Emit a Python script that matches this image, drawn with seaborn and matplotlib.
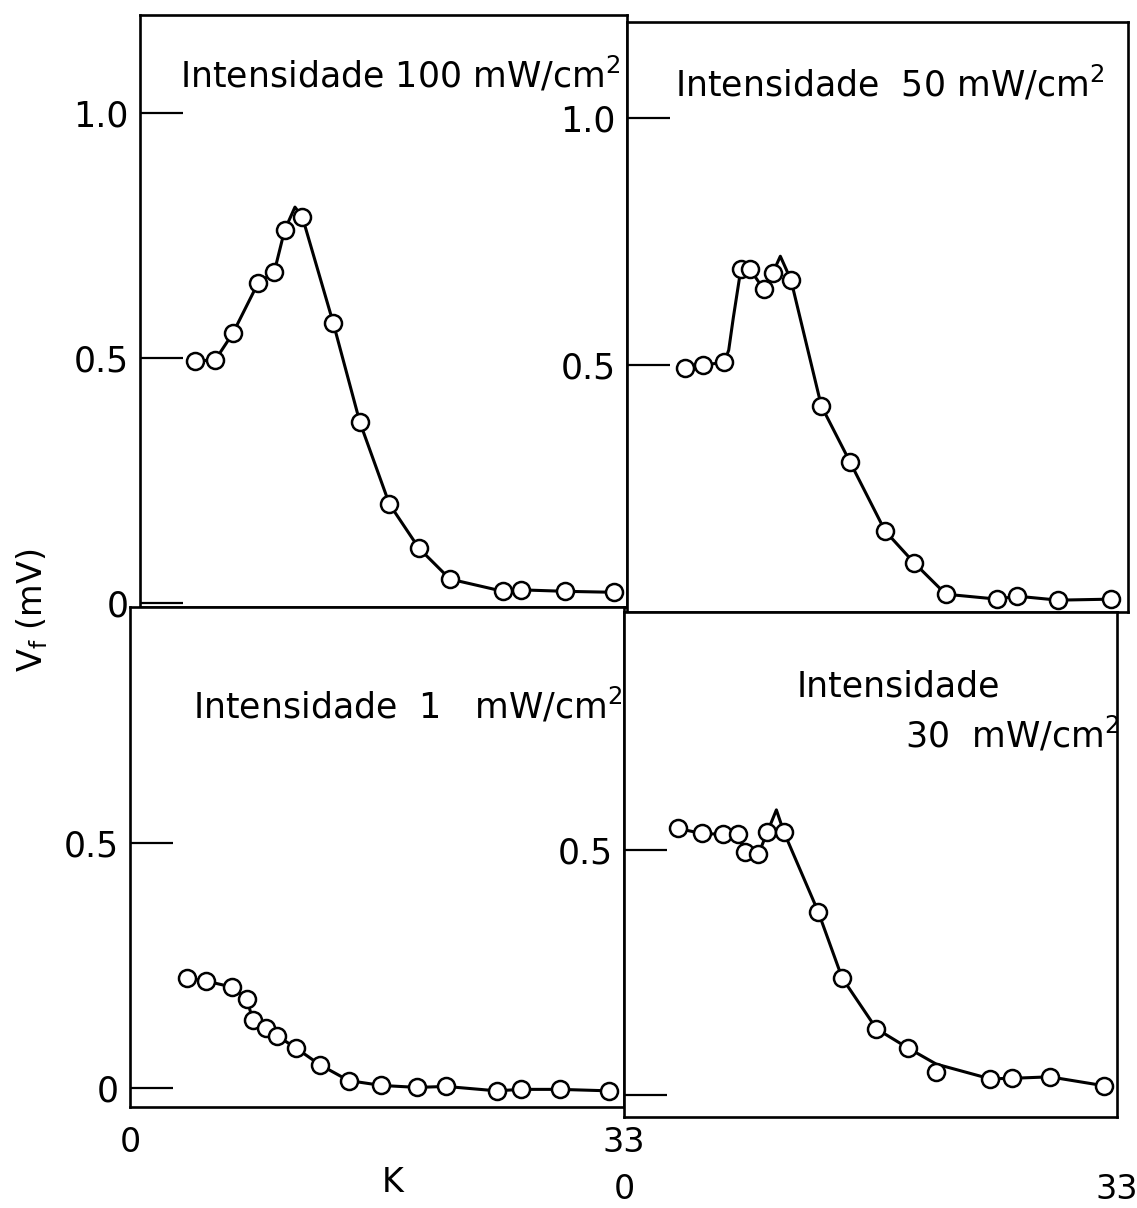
import matplotlib
matplotlib.use('Agg')
import matplotlib.pyplot as plt
import seaborn as sns

sns.set_style("ticks")
plt.rcParams['font.family'] = ['DejaVu Sans', 'Noto Sans']
plt.rcParams['axes.unicode_minus'] = False
plt.rcParams['text.color'] = 'black'
plt.rcParams['xtick.color'] = 'black'
plt.rcParams['ytick.color'] = 'black'
plt.rcParams['axes.labelcolor'] = 'black'

# ---- 100 mW/cm2 (top left)
k_100 = [3.7, 5.1, 6.3, 8.0, 9.1, 9.8, 11.0, 13.1, 14.9, 16.9, 18.9, 21.0, 24.6, 25.8, 28.8, 32.1]
v_100 = [0.494, 0.496, 0.551, 0.653, 0.676, 0.761, 0.788, 0.571, 0.369, 0.202, 0.112, 0.049, 0.024, 0.027, 0.024, 0.022]
curve_k_100 = [3.7, 5.1, 6.3, 8.0, 9.1, 9.8, 10.5, 11.0, 13.1, 14.9, 16.9, 18.9, 21.0, 24.6, 25.8, 28.8, 32.1]
curve_v_100 = [0.494, 0.496, 0.551, 0.653, 0.676, 0.761, 0.808, 0.788, 0.571, 0.369, 0.202, 0.112, 0.049, 0.024, 0.027, 0.024, 0.022]

# ---- 50 mW/cm2 (top right)
k_50 = [3.8, 5.0, 6.4, 7.5, 8.1, 9.0, 9.6, 10.8, 12.8, 14.7, 17.0, 18.9, 21.0, 24.4, 25.7, 28.4, 31.9]
v_50 = [0.493, 0.500, 0.505, 0.694, 0.694, 0.653, 0.686, 0.672, 0.417, 0.303, 0.164, 0.100, 0.036, 0.026, 0.032, 0.024, 0.026]
curve_k_50 = [3.8, 5.0, 6.4, 6.7, 7.0, 7.5, 8.1, 9.0, 9.6, 10.1, 10.8, 12.8, 14.7, 17.0, 18.9, 21.0, 24.4, 25.7, 28.4, 31.9]
curve_v_50 = [0.493, 0.500, 0.505, 0.530, 0.595, 0.694, 0.694, 0.653, 0.686, 0.720, 0.672, 0.417, 0.303, 0.164, 0.100, 0.036, 0.026, 0.032, 0.024, 0.026]

# ---- 1 mW/cm2 (bottom left)
k_1 = [3.8, 5.1, 6.8, 7.8, 8.2, 9.1, 9.8, 11.1, 12.7, 14.6, 16.8, 19.2, 21.1, 24.5, 26.1, 28.7, 32.0]
v_1 = [0.224, 0.218, 0.206, 0.182, 0.139, 0.122, 0.107, 0.081, 0.047, 0.015, 0.005, 0.001, 0.003, -0.006, -0.003, -0.003, -0.006]

# ---- 30 mW/cm2 (bottom right)
k_30 = [3.6, 5.2, 6.6, 7.6, 8.1, 9.0, 9.6, 10.7, 13.0, 14.6, 16.9, 19.0, 20.9, 24.5, 26.0, 28.5, 32.1]
v_30 = [0.544, 0.534, 0.532, 0.532, 0.495, 0.492, 0.537, 0.537, 0.374, 0.239, 0.135, 0.096, 0.047, 0.033, 0.034, 0.037, 0.019]
curve_k_30 = [3.6, 5.2, 6.6, 7.6, 8.1, 9.0, 9.6, 10.2, 10.7, 13.0, 14.6, 16.9, 19.0, 20.9, 24.5, 26.0, 28.5, 32.1]
curve_v_30 = [0.544, 0.534, 0.532, 0.532, 0.495, 0.492, 0.537, 0.582, 0.537, 0.374, 0.239, 0.135, 0.096, 0.063, 0.033, 0.034, 0.037, 0.019]

W, H = 1137, 1208
fig = plt.figure(figsize=(W / 100, H / 100), dpi=100)


def rect(x0, y0, x1, y1):
    return [x0 / W, 1 - y1 / H, (x1 - x0) / W, (y1 - y0) / H]


def panel(box, ylim, kk, vv, ck, cv, yticks, ylabels):
    ax = fig.add_axes(rect(*box))
    sns.lineplot(x=ck, y=cv, ax=ax, sort=False, estimator=None, color='black', lw=2.2)
    sns.scatterplot(x=kk, y=vv, ax=ax, marker='o', s=150, facecolor='white',
                    edgecolor='black', linewidth=1.8, zorder=5)
    ax.set_xlim(0, 33)
    ax.set_ylim(*ylim)
    ax.set_yticks(yticks)
    ax.set_yticklabels(ylabels, fontsize=25)
    ax.tick_params(axis='y', direction='in', length=31, width=1.6, pad=8)
    ax.set_xticks([])
    for s in ax.spines.values():
        s.set_linewidth(1.9)
        s.set_color('black')
    return ax


ax1 = panel((140, 15, 627, 607), (-0.008, 1.2), k_100, v_100, curve_k_100, curve_v_100,
            [0, 0.5, 1.0], ['0', '0.5', '1.0'])
ax2 = panel((627, 22, 1128, 612), (0.0, 1.194), k_50, v_50, curve_k_50, curve_v_50,
            [0.5, 1.0], ['0.5', '1.0'])
ax3 = panel((130, 607, 624, 1107), (-0.039, 0.982), k_1, v_1, k_1, v_1,
            [0, 0.5], ['0', '0.5'])
ax4 = panel((624, 612, 1117, 1117), (-0.045, 0.986), k_30, v_30, curve_k_30, curve_v_30,
            [0, 0.5], ['', '0.5'])

# x tick labels
ax3.set_xticks([0, 33])
ax3.set_xticklabels(['0', '33'], fontsize=24)
ax3.tick_params(axis='x', length=0, pad=14)
ax4.set_xticks([0, 33])
ax4.set_xticklabels(['0', '33'], fontsize=24)
ax4.tick_params(axis='x', length=0, pad=40)

tfs = 25
ax1.text(0.082, 0.877, 'Intensidade 100 mW/cm$^2$', transform=ax1.transAxes, fontsize=tfs, va='baseline')
ax2.text(0.096, 0.873, 'Intensidade  50 mW/cm$^2$', transform=ax2.transAxes, fontsize=tfs, va='baseline')
ax3.text(0.128, 0.778, 'Intensidade  1   mW/cm$^2$', transform=ax3.transAxes, fontsize=tfs, va='baseline')
ax4.text(0.35, 0.832, 'Intensidade', transform=ax4.transAxes, fontsize=tfs, va='baseline')
ax4.text(0.569, 0.731, '30  mW/cm$^2$', transform=ax4.transAxes, fontsize=tfs, va='baseline')

fig.text(393 / W, 1 - 1183 / H, 'K', fontsize=24, ha='center', va='center')
fig.text(32 / W, 1 - 610 / H, r'$\mathrm{V_f}$ (mV)', fontsize=24, rotation=90, ha='center', va='center')

fig.savefig('out.png', dpi=100)
